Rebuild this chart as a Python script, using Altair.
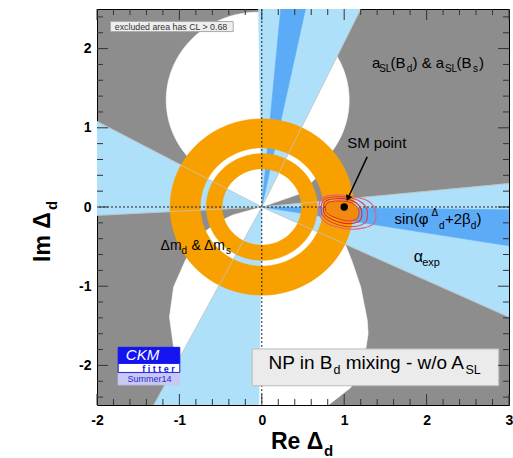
import numpy as np
import pandas as pd
import altair as alt

FONT = "Liberation Sans"
GRAY = "#8d8d8d"
LBLUE = "#aee0fa"
MBLUE = "#5cabf6"
ORANGE = "#f7a000"

X_DOM = [-2, 3]
Y_DOM = [-2.5, 2.5]
X_MAJOR = [-2, -1, 0, 1, 2, 3]
Y_MAJOR = [-2, -1, 0, 1, 2]
X_MINOR = [-1.8, -1.6, -1.4, -1.2, -0.8, -0.6, -0.4, -0.2, 0.2, 0.4, 0.6, 0.8,
           1.2, 1.4, 1.6, 1.8, 2.2, 2.4, 2.6, 2.8]
Y_MINOR = [-2.4, -2.2, -1.8, -1.6, -1.4, -1.2, -0.8, -0.6, -0.4, -0.2, 0.2, 0.4,
           0.6, 0.8, 1.2, 1.4, 1.6, 1.8, 2.2, 2.4]

# ---- a_SL allowed region is the grey background; white = excluded discs ----
UP_CX, UP_CY, UP_R = -0.05, 1.35, 1.11
UP_ARC = (-42, 224)
UP_START_X = [0.0, 0.47, 0.65]
UP_START_Y = [0.0, 0.17, 0.36]
UP_END_X = [-0.80, -0.40]
UP_END_Y = [0.30, 0.10]

LOW_X = [0.0, -0.35, -0.55, -0.70, -0.82, -0.93, -1.07, -1.12, -1.07, -0.95, -0.90,
         0.81, 1.08, 1.24, 1.29, 1.28, 1.20, 1.10, 1.02, 0.70, 0.35]
LOW_Y = [0.0, -0.10, -0.20, -0.32, -0.48, -0.68, -1.01, -1.39, -1.77, -2.10, -2.50,
         -2.50, -2.28, -1.94, -1.60, -1.43, -1.01, -0.70, -0.49, -0.30, -0.14]

# ---- alpha_exp wedges (light blue) ----
LB_WEDGES = {
    "lbA": ([0, -2, -2], [0, 1.08, -0.105]),
    "lbB": ([0, 3, 3], [0, 0.296, -1.39]),
    "lbC": ([0, 1.2, -0.04], [0, 2.5, 2.5]),
    "lbD": ([0, -0.036, -1.31], [0, -2.5, -2.5]),
}
# ---- sin(phi+2beta) wedges (medium blue) ----
MB_WEDGES = {
    "mbE": ([0, 0.23, 0.53], [0, 2.5, 2.5]),
    "mbF": ([0, 3, 3], [0, -0.036, -0.49]),
}
# ---- Delta m rings (inner radius, outer radius) ----
RINGS = [(0.745, 1.115), (0.48, 0.675)]

# ---- combined fit ----
FIT_X = [0.773, 0.793, 0.915, 1.056, 1.137, 1.178, 1.158, 1.036, 0.874, 0.80]
FIT_Y = [-0.042, 0.051, 0.076, 0.063, 0.022, -0.042, -0.147, -0.177, -0.127, -0.084]
CONT = {
    "c1": ([0.75, 0.77, 0.90, 1.07, 1.16, 1.21, 1.19, 1.04, 0.86, 0.77],
           [-0.04, 0.07, 0.105, 0.09, 0.04, -0.04, -0.17, -0.21, -0.16, -0.10], "#e02828"),
    "c2": ([0.72, 0.75, 0.90, 1.10, 1.22, 1.28, 1.25, 1.05, 0.84, 0.74],
           [-0.03, 0.09, 0.13, 0.11, 0.05, -0.05, -0.20, -0.25, -0.19, -0.11], "#e04040"),
    "c3": ([0.69, 0.73, 0.90, 1.12, 1.30, 1.38, 1.35, 1.10, 0.82, 0.71],
           [-0.02, 0.11, 0.15, 0.13, 0.07, -0.06, -0.22, -0.28, -0.22, -0.12], "#e0607a"),
}
SM_X, SM_Y = [1.0], [0.0]
ARROW_X = [1.279, 1.045]
ARROW_Y = [0.633, 0.11]

EDGE_X = [-2, -2, 3, 3, 1.2, -1.31]
EDGE_Y = [1.08, -0.105, 0.296, -1.39, 2.5, -2.5]

# ---- texts (piece, x, y, size, colour) ----
TXT = [
    ("a", 1.337, 1.752, 15, "black"), ("SL", 1.424, 1.708, 10, "black"),
    ("(B", 1.562, 1.752, 15, "black"), ("d", 1.76, 1.708, 10, "black"),
    (") & a", 1.829, 1.752, 15, "black"), ("SL", 2.222, 1.708, 10, "black"),
    ("(B", 2.362, 1.752, 15, "black"), ("s", 2.562, 1.708, 10, "black"),
    (")", 2.635, 1.752, 15, "black"),
    ("SM point", 1.036, 0.749, 15, "black"),
    ("sin(\u03c6", 1.610, -0.21, 15, "black"), ("\u0394", 2.060, -0.118, 10, "black"),
    ("d", 2.150, -0.282, 10, "black"), ("+2\u03b2", 2.222, -0.21, 15, "black"),
    ("d", 2.535, -0.282, 10, "black"), (")", 2.607, -0.21, 15, "black"),
    ("\u03b1", 1.845, -0.70, 16, "black"), ("exp", 1.947, -0.744, 11, "black"),
    ("\u0394m", -1.229, -0.548, 14, "black"), ("d", -0.975, -0.592, 10, "black"),
    ("& \u0394m", -0.853, -0.548, 14, "black"), ("s", -0.434, -0.592, 10, "black"),
    ("excluded area has CL > 0.68", -1.784, 2.237, 8.8, "#333333"),
    ("NP in B", 0.081, -2.046, 19, "black"), ("d", 0.870, -2.105, 12.5, "black"),
    ("mixing - w/o A", 1.019, -2.046, 19, "black"), ("SL", 2.472, -2.105, 12.5, "black"),
    ("Summer14", -1.63, -2.213, 9, "#2a2ac8"),
]
BOXES = [  # x, x2, y, y2, fill, stroke
    (-1.836, -0.347, 2.342, 2.215, "#eeeeee", "#aaaaaa"),
    (-0.117, 2.876, -1.792, -2.257, "#ebebeb", "#bbbbbb"),
    (-1.743, -0.995, -1.772, -1.975, "#1414f0", "#1414f0"),
    (-1.743, -0.995, -1.975, -2.089, "#ffffff", "#1414f0"),
    (-1.743, -0.995, -2.101, -2.245, "#c8c8f4", "#c8c8f4"),
]


def arc(cx, cy, r, a0, a1, n=90):
    t = np.radians(np.linspace(a0, a1, n))
    return list(cx + r * np.cos(t)), list(cy + r * np.sin(t))


def poly(name, xs, ys):
    return pd.DataFrame({"shape": name, "i": np.arange(len(xs)), "x": xs, "y": ys})


XS = alt.Scale(domain=X_DOM, nice=False, zero=False)
YS = alt.Scale(domain=Y_DOM, nice=False, zero=False)
XAX = alt.Axis(values=X_MAJOR, labelExpr="'' + datum.value", ticks=False, domain=False,
               grid=False, labelFont=FONT, labelFontWeight="bold", labelFontSize=14,
               labelColor="black", labelPadding=8, labelFlush=False, title="")
YAX = alt.Axis(values=Y_MAJOR, labelExpr="'' + datum.value", ticks=False, domain=False,
               grid=False, labelFont=FONT, labelFontWeight="bold", labelFontSize=14,
               labelColor="black", labelPadding=6, labelFlush=False, title="")


def ex(f="x"):
    return alt.X(f, type="quantitative", scale=XS, axis=XAX)


def ey(f="y"):
    return alt.Y(f, type="quantitative", scale=YS, axis=YAX)


def filled(df, color, interp="linear-closed", sw=0.6):
    return alt.Chart(df).mark_line(fill=color, stroke=color, strokeWidth=sw,
                                   interpolate=interp, clip=True).encode(
        x=ex(), y=ey(), detail="shape:N", order=alt.Order("i:Q"))


# white discs
ax, ay = arc(UP_CX, UP_CY, UP_R, UP_ARC[0], UP_ARC[1])
up = poly("up", UP_START_X + ax + UP_END_X, UP_START_Y + ay + UP_END_Y)
low = poly("low", LOW_X, LOW_Y)
white = filled(pd.concat([up, low]), "#ffffff")

lb = filled(pd.concat([poly(k, v[0], v[1]) for k, v in LB_WEDGES.items()]), LBLUE)
mb = filled(pd.concat([poly(k, v[0], v[1]) for k, v in MB_WEDGES.items()]), MBLUE)

ring_dfs = []
for j, (ri, ro) in enumerate(RINGS):
    ox, oy = arc(0, 0, ro, 0, 360, 120)
    ix, iy = arc(0, 0, ri, 360, 0, 120)
    ring_dfs.append(poly(f"ring{j}", ox + ix, oy + iy))
rings = filled(pd.concat(ring_dfs), ORANGE, sw=0.3)

edges = alt.Chart(pd.DataFrame({"x0": 0.0, "y0": 0.0, "x1": EDGE_X, "y1": EDGE_Y})).mark_rule(
    color="#c4c4c4", strokeWidth=0.8, clip=True).encode(
    x=ex("x0"), y=ey("y0"), x2="x1:Q", y2="y1:Q")

zero_v = alt.Chart(pd.DataFrame({"x": [0.0]})).mark_rule(
    color="#222222", strokeWidth=1, strokeDash=[2, 2]).encode(x=ex())
zero_h = alt.Chart(pd.DataFrame({"y": [0.0]})).mark_rule(
    color="#222222", strokeWidth=1, strokeDash=[2, 2]).encode(y=ey())

fit = alt.Chart(poly("fit", FIT_X, FIT_Y)).mark_line(
    fill="#f28a10", stroke="#e03020", strokeWidth=1, interpolate="cardinal-closed").encode(
    x=ex(), y=ey(), order=alt.Order("i:Q"))
cont_layers = []
for k, (cx_, cy_, col) in CONT.items():
    cont_layers.append(alt.Chart(poly(k, cx_, cy_)).mark_line(
        stroke=col, strokeWidth=1.1, interpolate="cardinal-closed").encode(
        x=ex(), y=ey(), order=alt.Order("i:Q")))

arrow = alt.Chart(pd.DataFrame({"x": ARROW_X, "y": ARROW_Y, "i": [0, 1]})).mark_line(
    color="black", strokeWidth=1.5).encode(x=ex(), y=ey(), order=alt.Order("i:Q"))
head = alt.Chart(pd.DataFrame({"x": [ARROW_X[1]], "y": [ARROW_Y[1]]})).mark_point(
    shape="triangle-up", angle=205, size=45, filled=True, color="black", opacity=1).encode(
    x=ex(), y=ey())
sm = alt.Chart(pd.DataFrame({"x": SM_X, "y": SM_Y})).mark_point(
    shape="circle", size=55, filled=True, color="black", opacity=1).encode(x=ex(), y=ey())

bdf = pd.DataFrame(BOXES, columns=["x", "x2", "y", "y2", "f", "s"])
boxes = alt.Chart(bdf).mark_rect(strokeWidth=1).encode(
    x=ex(), x2="x2:Q", y=ey(), y2="y2:Q",
    fill=alt.Fill("f:N", scale=None), stroke=alt.Stroke("s:N", scale=None))

tdf = pd.DataFrame(TXT, columns=["t", "x", "y", "fs", "c"])
texts = alt.Chart(tdf).mark_text(align="left", baseline="alphabetic", font=FONT).encode(
    x=ex(), y=ey(), text="t:N", size=alt.Size("fs:Q", scale=None),
    color=alt.Color("c:N", scale=None))

ckm = alt.Chart(pd.DataFrame({"t": ["CKM"], "x": [-1.65], "y": [-1.93]})).mark_text(
    align="left", baseline="alphabetic", font=FONT, fontStyle="italic", fontSize=15,
    color="white").encode(x=ex(), y=ey(), text="t:N")
fitter = alt.Chart(pd.DataFrame({"t": ["f i t t e r"], "x": [-1.45], "y": [-2.085]})).mark_text(
    align="left", baseline="alphabetic", font=FONT, fontWeight="bold", fontSize=9,
    color="#1414f0").encode(x=ex(), y=ey(), text="t:N")


def ticks(vals, axis, length):
    d = pd.DataFrame({"v": vals})
    c = alt.Chart(d).mark_rule(color="#333333", strokeWidth=1)
    if axis == "b":
        return c.encode(x=ex("v"), y=alt.value(396), y2=alt.value(396 - length))
    if axis == "t":
        return c.encode(x=ex("v"), y=alt.value(0), y2=alt.value(length))
    if axis == "l":
        return c.encode(y=ey("v"), x=alt.value(0), x2=alt.value(length))
    return c.encode(y=ey("v"), x=alt.value(412), x2=alt.value(412 - length))


tick_layers = [ticks(X_MAJOR, "b", 11), ticks(X_MINOR, "b", 6),
               ticks(X_MAJOR, "t", 11), ticks(X_MINOR, "t", 6),
               ticks(Y_MAJOR, "l", 11), ticks(Y_MINOR, "l", 6),
               ticks(Y_MAJOR, "r", 11), ticks(Y_MINOR, "r", 6)]

tdd = pd.DataFrame({"t": ["x"]})
re_t = alt.Chart(tdd).mark_text(align="left", baseline="alphabetic", font=FONT,
                                fontWeight="bold", fontSize=23, text="Re \u0394").encode(
    x=alt.value(174), y=alt.value(440))
re_s = alt.Chart(tdd).mark_text(align="left", baseline="alphabetic", font=FONT,
                                fontWeight="bold", fontSize=15, text="d").encode(
    x=alt.value(227), y=alt.value(447))
im_t = alt.Chart(tdd).mark_text(align="left", baseline="alphabetic", font=FONT,
                                fontWeight="bold", fontSize=23, angle=270, text="Im \u0394").encode(
    x=alt.value(-47), y=alt.value(253))
im_s = alt.Chart(tdd).mark_text(align="left", baseline="alphabetic", font=FONT,
                                fontWeight="bold", fontSize=15, angle=270, text="d").encode(
    x=alt.value(-40), y=alt.value(201))

chart = alt.layer(
    white, lb, mb, rings, edges, zero_v, zero_h, fit, *cont_layers, arrow, head, sm,
    boxes, texts, ckm, fitter, *tick_layers, re_t, re_s, im_t, im_s
).properties(
    width=412, height=396,
    padding={"left": 97, "top": 9, "right": 4, "bottom": 53},
    autosize=alt.AutoSizeParams(type="none"),
).configure_view(fill=GRAY, stroke="black", strokeWidth=1)

chart.save("out.html", embed_options={"renderer": "svg", "actions": False})
